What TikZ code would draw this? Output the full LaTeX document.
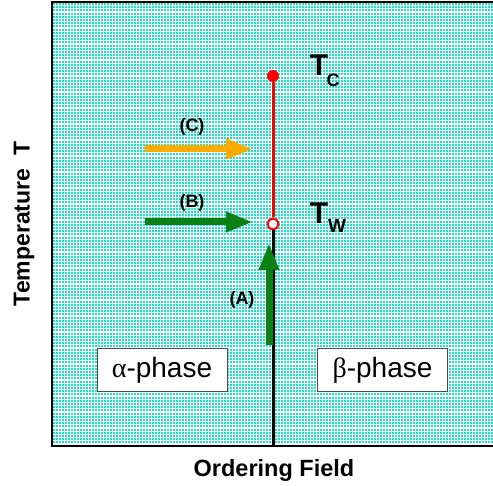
\documentclass[tikz,border=0pt]{standalone}
\usepackage{fontspec}
\setmainfont{Liberation Sans}
\newfontfamily\greekfont{Liberation Serif}
\usetikzlibrary{arrows.meta}
\definecolor{dotcyan}{RGB}{28,224,200}
\definecolor{arrgreen}{RGB}{10,128,20}
\definecolor{arrorange}{RGB}{255,170,0}
\newcommand{\fsz}[1]{\fontsize{#1}{#1}\selectfont}
\tikzset{
  fatarrow/.style={line width=7pt,-{Triangle[length=27pt,width=19pt]}},
  lbl/.style={font=\bfseries\fsz{18}},
  phasebox/.style={draw=black!70,line width=1pt,fill=white,minimum width=130pt,minimum height=43pt,font=\fsz{28}}
}
\begin{document}
\begin{tikzpicture}[x=1pt,y=-1pt]
\useasboundingbox (0,0) rectangle (493,486);
% dotted background
\foreach \x in {54,57,...,493}
  \draw[dotcyan,line width=2pt,dash pattern=on 2pt off 1.2pt] (\x,3) -- (\x,445);
% frame
\draw[line width=2pt] (493,2) -- (52,2) -- (52,446) -- (493,446);
% phase line
\coordinate (bot) at (273,446);
\node[circle,fill=red,inner sep=0pt,minimum size=12pt] (Tc) at (273,76) {};
\node[circle,draw=red,line width=2pt,fill=white,inner sep=0pt,minimum size=11pt] (Tw) at (273,224) {};
\draw[red,line width=3pt] (Tc) -- (Tw);
\draw[line width=3pt] (Tw) -- (bot);
\node[font=\bfseries\fsz{30}] (TcT) at (319,65) {T};
\node[font=\bfseries\fsz{18}] (TcC) at (333,80) {C};
\node[font=\bfseries\fsz{30}] (TwT) at (319,213) {T};
\node[font=\bfseries\fsz{19}] (TwW) at (337,226) {W};
% paths
\coordinate (Cs) at (145,149);
\coordinate (Ce) at (253,149);
\coordinate (Bs) at (145,222);
\coordinate (Be) at (253,222);
\coordinate (As) at (269,345);
\coordinate (Ae) at (269,243);
\draw[fatarrow,arrorange] (Cs) -- (Ce);
\draw[fatarrow,arrgreen] (Bs) -- (Be);
\draw[fatarrow,arrgreen] (As) -- (Ae);
\node[lbl] (labC) at (192,127) {(C)};
\node[lbl] (labB) at (192,203) {(B)};
\node[lbl] (labA) at (242,300) {(A)};
% phases
\node[phasebox] (alpha) at (162,370.5) {{\greekfont α}-phase};
\node[phasebox] (beta) at (382.5,370.5) {{\greekfont β}-phase};
% axes
\node[font=\bfseries\fsz{23.5}] (xlab) at (274,470) {Ordering Field};
\node[font=\bfseries\fsz{23},rotate=90] (ylab) at (24,224) {Temperature\ \ T};
\end{tikzpicture}
\end{document}
